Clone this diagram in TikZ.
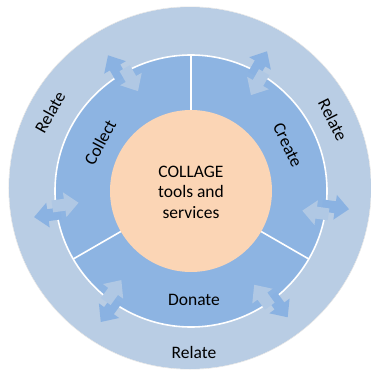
\documentclass[tikz,border=0pt]{standalone}
\usepackage{fontspec}
\setmainfont{Carlito}
\begin{document}
\definecolor{ringout}{RGB}{185,205,228}
\definecolor{ringmid}{RGB}{141,180,226}
\definecolor{core}{RGB}{251,213,181}
\definecolor{arrdark}{RGB}{138,178,226}
\definecolor{arrlight}{RGB}{176,200,228}
\begin{tikzpicture}[x=1pt,y=1pt,
  lbl/.style={font=\fontsize{17.5}{20.5}\selectfont, text=black, inner sep=0pt, align=center},
  divider/.style={draw=white, line width=1.6pt},
  relarrow/.pic={
    % outward half, sitting on the outer ring
    \fill[arrdark] (132,-2) -- (145,-2) -- (145,-8.5) -- (159,4) -- (145,16.5) -- (145,10) -- (132,10) -- cycle;
    % inward half, sitting on the middle ring
    \fill[arrlight] (139.5,-10) -- (127,-10) -- (127,-16.5) -- (113,-4) -- (127,8.5) -- (127,2) -- (139.5,2) -- cycle;
  }]
\useasboundingbox (-191,-185) rectangle (180,191);
% outer ring
\fill[ringout] (-1,3) circle (181);
\draw[gray!25, line width=0.4pt] (-1,3) circle (181.3);
% middle ring with white rim
\fill[ringmid] (0,0) circle (136);
\draw[white, line width=1.6pt] (0,0) circle (136);
% sector dividers
\foreach \a in {90,210,330} \draw[divider] (\a:80) -- (\a:136);
% core
\node[circle, fill=core, minimum size=162pt, inner sep=0pt] (core) at (0,0) {};
\node[lbl] (coretxt) at (0,-1) {COLLAGE\\tools and\\services};
% relation arrows across the rim
\foreach \a in {60,120,-8,188,-54,234} \pic[rotate=\a] at (0,0) {relarrow};
% sector labels
\node[lbl, rotate=62] (collect) at (152:103) {Collect};
\node[lbl, rotate=-64.6] (create) at (25.4:107) {Create};
\node[lbl] (donate) at (3,-109) {Donate};
% outer ring labels
\node[lbl, rotate=60.7] (relL) at (-141,79) {Relate};
\node[lbl, rotate=-63.4] (relR) at (142,71) {Relate};
\node[lbl] (relB) at (3,-161) {Relate};
\end{tikzpicture}
\end{document}
